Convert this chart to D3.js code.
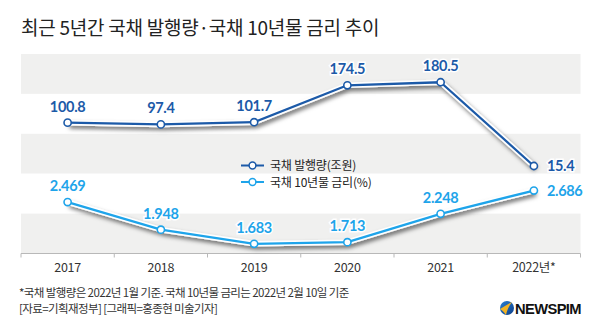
<!DOCTYPE html>
<html>
<head>
<meta charset="utf-8">
<script src="https://cdn.jsdelivr.net/npm/d3@7"></script>
<style>
  html, body { margin: 0; padding: 0; background: #fff; }
  svg { display: block; }
  .kr { font-family: "Noto Sans CJK KR", "Noto Sans", sans-serif; }
  .num { font-family: Lato, "Noto Sans", sans-serif; }
</style>
</head>
<body>
<svg id="chart" width="600" height="334"></svg>
<script>
// Years and the two series
const years = ["2017", "2018", "2019", "2020", "2021", "2022년*"];
const issuance = [100.8, 97.4, 101.7, 174.5, 180.5, 15.4];   // 국채 발행량 (조원)
const rates = [2.469, 1.948, 1.683, 1.713, 2.248, 2.686];     // 국채 10년물 금리 (%)
const seriesNames = ["국채 발행량(조원)", "국채 10년물 금리(%)"];
const seriesColors = ["#1c5aa8", "#1ea4ea"];

const svg = d3.select("#chart");

const plotLeft = 21, plotRight = 580.5, plotTop = 54, plotBottom = 253.5;

const x = d3.scaleBand().domain(years).range([plotLeft, plotRight]);
const yIssue = d3.scaleLinear().domain([0, 180]).range([173.8, 82.5]);
const yRate = d3.scaleLinear().domain([1.5, 2.7]).range([253.5, 189.8]);
const rows = d3.scaleBand().domain(d3.range(5)).range([plotTop, plotBottom]);

// drop shadow for lines
const defs = svg.append("defs");
const f = defs.append("filter").attr("id", "shadow")
  .attr("x", "-10%").attr("y", "-30%").attr("width", "130%").attr("height", "180%");
f.append("feDropShadow").attr("dx", 2).attr("dy", 3).attr("stdDeviation", 2)
  .attr("flood-color", "#000").attr("flood-opacity", 0.55);

// title
svg.append("text").attr("class", "kr")
  .attr("x", 21).attr("y", 35)
  .attr("font-size", 19).attr("letter-spacing", -0.25)
  .attr("fill", "#222")
  .text("최근 5년간 국채 발행량·국채 10년물 금리 추이");

// alternating background bands
svg.append("g").selectAll("rect")
  .data(d3.range(5))
  .join("rect")
  .attr("x", plotLeft).attr("width", plotRight - plotLeft)
  .attr("y", d => rows(d)).attr("height", rows.bandwidth())
  .attr("fill", d => d % 2 === 0 ? "#f0f0ef" : "#ffffff");

// baseline and boundary ticks
const bounds = years.map(d => x(d)).concat([x(years[years.length - 1]) + x.bandwidth()]);
const axisG = svg.append("g");
axisG.append("line")
  .attr("x1", plotLeft).attr("x2", plotRight).attr("y1", plotBottom).attr("y2", plotBottom)
  .attr("stroke", "#b8b8b8").attr("stroke-width", 1);
axisG.selectAll("line.tk").data(bounds).join("line").attr("class", "tk")
  .attr("x1", d => d).attr("x2", d => d)
  .attr("y1", plotBottom).attr("y2", plotBottom + 4)
  .attr("stroke", "#b8b8b8");

// category labels
const xAxis = svg.append("g")
  .attr("transform", `translate(0,${plotBottom})`)
  .call(d3.axisBottom(x).tickSize(0).tickPadding(10));
xAxis.select(".domain").remove();
xAxis.selectAll("text")
  .attr("class", "kr")
  .attr("font-size", 12.5)
  .attr("fill", "#333")
  .attr("letter-spacing", -0.3);

function drawSeries(values, yScale, color, labelFmt, lastRight) {
  const pts = values.map((v, i) => [x(years[i]) + x.bandwidth() / 2, yScale(v)]);
  const line = d3.line();
  const g = svg.append("g");
  g.append("path").attr("d", line(pts))
    .attr("fill", "none").attr("stroke", "#fff").attr("stroke-width", 5.5)
    .attr("stroke-linejoin", "round")
    .attr("filter", "url(#shadow)");
  g.append("path").attr("d", line(pts))
    .attr("fill", "none").attr("stroke", color).attr("stroke-width", 2.3)
    .attr("stroke-linejoin", "round");
  g.selectAll("circle").data(pts).join("circle")
    .attr("cx", d => d[0]).attr("cy", d => d[1]).attr("r", 3.6)
    .attr("fill", "#fff").attr("stroke", color).attr("stroke-width", 1.6);
  g.selectAll("text").data(values).join("text")
    .attr("class", "num")
    .attr("x", (d, i) => i === values.length - 1 && lastRight ? pts[i][0] + 13 : pts[i][0])
    .attr("y", (d, i) => i === values.length - 1 && lastRight ? pts[i][1] + 5 : pts[i][1] - 11)
    .attr("text-anchor", (d, i) => i === values.length - 1 && lastRight ? "start" : "middle")
    .attr("font-size", 14.5).attr("font-weight", 700)
    .attr("letter-spacing", -0.3)
    .attr("fill", color)
    .attr("stroke", "#fff").attr("stroke-width", 3).attr("paint-order", "stroke")
    .text(labelFmt);
}

drawSeries(issuance, yIssue, seriesColors[0], d => d.toFixed(1), true);
drawSeries(rates, yRate, seriesColors[1], d => d.toFixed(3), true);

// legend
const legend = svg.append("g");
seriesNames.forEach((name, i) => {
  const ly = 165.5 + i * 16.5;
  legend.append("line").attr("x1", 241).attr("x2", 264).attr("y1", ly).attr("y2", ly)
    .attr("stroke", seriesColors[i]).attr("stroke-width", 2);
  legend.append("circle").attr("cx", 252.5).attr("cy", ly).attr("r", 3.4)
    .attr("fill", "#fff").attr("stroke", seriesColors[i]).attr("stroke-width", 1.5);
  legend.append("text").attr("class", "kr")
    .attr("x", 270).attr("y", ly + 4.5)
    .attr("font-size", 12).attr("letter-spacing", -0.2).attr("fill", "#222")
    .text(name);
});

// footnotes
const notes = ["*국채 발행량은 2022년 1월 기준. 국채 10년물 금리는 2022년 2월 10일 기준",
               "[자료=기획재정부] [그래픽=홍종현 미술기자]"];
svg.append("g").selectAll("text").data(notes).join("text")
  .attr("class", "kr")
  .attr("x", 19).attr("y", (d, i) => 297 + i * 16)
  .attr("font-size", 11.5).attr("letter-spacing", -0.6).attr("fill", "#333")
  .text(d => d);

// NEWSPIM mark
const logo = svg.append("g").attr("transform", "translate(507,308)");
const lg = defs.append("linearGradient").attr("id", "lg").attr("x1", "0").attr("y1", "0").attr("x2", "1").attr("y2", "1");
lg.append("stop").attr("offset", "0").attr("stop-color", "#2a7fd0");
lg.append("stop").attr("offset", "1").attr("stop-color", "#0d3f8a");
logo.append("circle").attr("r", 7).attr("fill", "url(#lg)");
logo.append("path")
  .attr("d", "M-7,1 C-3,-1 1,-4 5,-6 C2,-2 0,2 -1,7 C-3,4 -5,2 -7,1 Z")
  .attr("fill", "#f2b324");
logo.append("text").attr("x", 8).attr("y", 5.5)
  .attr("font-family", "'Liberation Sans', Arial, sans-serif")
  .attr("font-weight", 700).attr("font-size", 14.5).attr("letter-spacing", -0.6)
  .attr("textLength", 66).attr("lengthAdjust", "spacingAndGlyphs")
  .attr("fill", "#111").text("NEWSPIM");
</script>
</body>
</html>
